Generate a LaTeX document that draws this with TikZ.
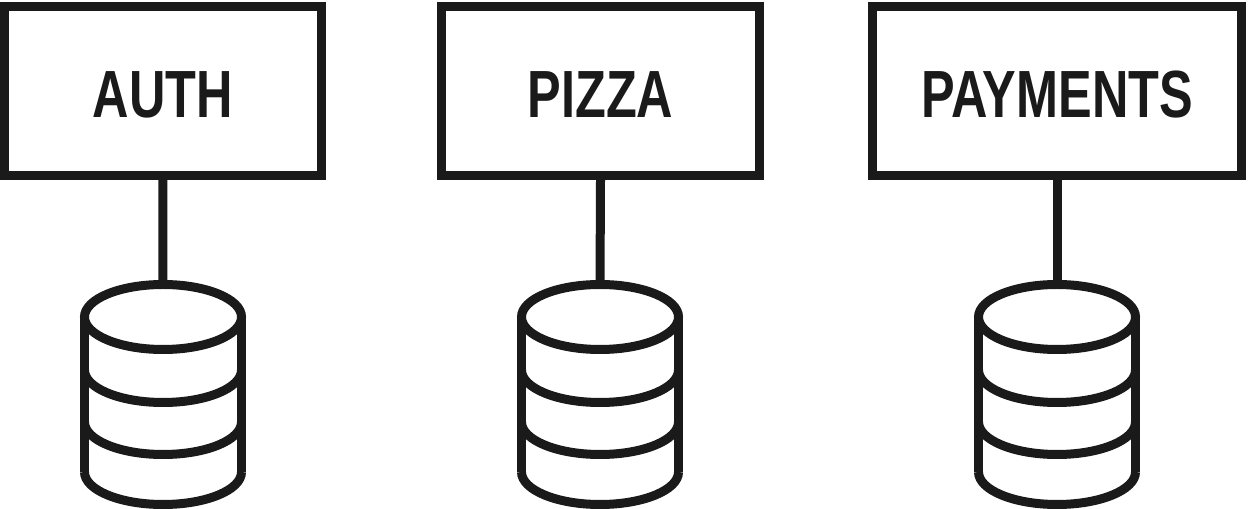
\documentclass[tikz,border=0pt]{standalone}
\usepackage{fontspec}
\newfontfamily\boxfont[FakeStretch=0.755]{Liberation Sans Bold}
\definecolor{inkblack}{HTML}{1A1A1A}
\tikzset{
	svcbox/.style={draw=inkblack, line width=.18cm, fill=white, text=inkblack, font=\boxfont\fontsize{38}{40}\selectfont,
		minimum height=3.38cm, text height=30.6pt, text depth=0pt, inner sep=0pt},
	dbline/.style={draw=inkblack, line width=.18cm}
}

\begin{document}
\begin{tikzpicture}[x=.02cm, y=-.02cm]
	\useasboundingbox (0,0) rectangle (1250,509);

	% Service boxes
	\node[svcbox, minimum width=6.35cm] (auth) at (162.75,91) {AUTH};
	\node[svcbox, minimum width=6.36cm] (pizza) at (600.5,91) {PIZZA};
	\node[svcbox, minimum width=7.40cm] (payments) at (1057,91) {PAYMENTS};

	% Databases below the boxes
	\foreach \svc/\x in {auth/163,pizza/600,payments/1057} {
		\coordinate (\svc db) at (\x,284.5);
		\draw[dbline] (\svc.south) -- (\svc db);
		\draw[dbline] (\x,317) ellipse [x radius=78.5, y radius=32.5];
		\draw[dbline] (\x-78.5,317) -- (\x-78.5,472);
		\draw[dbline] (\x+78.5,317) -- (\x+78.5,472);
		% Bands on the drum
		\foreach \y in {370,422,472}
		\draw[dbline] (\x-78.5,\y) arc[start angle=180, end angle=0, x radius=78.5, y radius=32.5];
	}
\end{tikzpicture}
\end{document}
